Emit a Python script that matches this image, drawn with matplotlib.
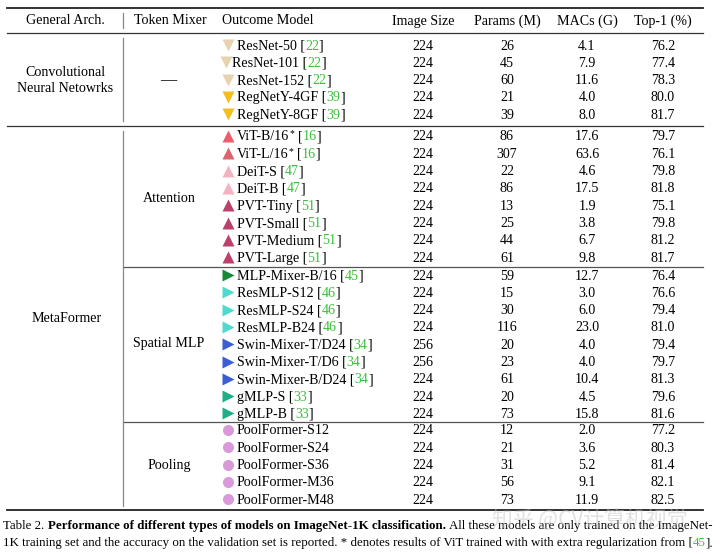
import matplotlib
matplotlib.use('Agg')
import matplotlib.pyplot as plt

plt.rcParams['font.family'] = ['Liberation Serif', 'DejaVu Serif']

# ---- table data ----
cnn_names = ['ResNet-50', 'ResNet-101', 'ResNet-152', 'RegNetY-4GF', 'RegNetY-8GF']
cnn_refs = ['22', '22', '22', '39', '39']
cnn_size = [224, 224, 224, 224, 224]
cnn_params = [26, 45, 60, 21, 39]
cnn_macs = [4.1, 7.9, 11.6, 4.0, 8.0]
cnn_top1 = [76.2, 77.4, 78.3, 80.0, 81.7]
cnn_colors = ['#e8d3b0', '#e8d3b0', '#e8d3b0', '#f2bf1e', '#f2bf1e']

att_names = ['ViT-B/16*', 'ViT-L/16*', 'DeiT-S', 'DeiT-B', 'PVT-Tiny', 'PVT-Small',
             'PVT-Medium', 'PVT-Large']
att_refs = ['16', '16', '47', '47', '51', '51', '51', '51']
att_size = [224, 224, 224, 224, 224, 224, 224, 224]
att_params = [86, 307, 22, 86, 13, 25, 44, 61]
att_macs = [17.6, 63.6, 4.6, 17.5, 1.9, 3.8, 6.7, 9.8]
att_top1 = [79.7, 76.1, 79.8, 81.8, 75.1, 79.8, 81.2, 81.7]
att_colors = ['#e8606c', '#da6470', '#f5b3c2', '#f5b3c2', '#bb416c', '#bb416c',
              '#bb416c', '#bb416c']

mlp_names = ['MLP-Mixer-B/16', 'ResMLP-S12', 'ResMLP-S24', 'ResMLP-B24', 'Swin-Mixer-T/D24',
             'Swin-Mixer-T/D6', 'Swin-Mixer-B/D24', 'gMLP-S', 'gMLP-B']
mlp_refs = ['45', '46', '46', '46', '34', '34', '34', '33', '33']
mlp_size = [224, 224, 224, 224, 256, 256, 224, 224, 224]
mlp_params = [59, 15, 30, 116, 20, 23, 61, 20, 73]
mlp_macs = [12.7, 3.0, 6.0, 23.0, 4.0, 4.0, 10.4, 4.5, 15.8]
mlp_top1 = [76.4, 76.6, 79.4, 81.0, 79.4, 79.7, 81.3, 79.6, 81.6]
mlp_colors = ['#178a3a', '#4fd9cf', '#4fd9cf', '#4fd9cf', '#3a5fd4', '#3a5fd4', '#3a5fd4',
              '#1fae88', '#1fae88']

pool_names = ['PoolFormer-S12', 'PoolFormer-S24', 'PoolFormer-S36', 'PoolFormer-M36',
              'PoolFormer-M48']
pool_size = [224, 224, 224, 224, 224]
pool_params = [12, 21, 31, 56, 73]
pool_macs = [2.0, 3.6, 5.2, 9.1, 11.9]
pool_top1 = [77.2, 80.3, 81.4, 82.1, 82.5]
pool_color = '#da9ada'

headers = ['General Arch.', 'Token Mixer', 'Outcome Model', 'Image Size', 'Params (M)',
           'MACs (G)', 'Top-1 (%)']

FS = 10.1
GREEN = '#3cbf3c'
STEP = 17.3

fig = plt.figure(figsize=(7.2, 5.54), dpi=100)
ax = fig.add_axes([0, 0, 1, 1])
ax.set_xlim(0, 720)
ax.set_ylim(554, 0)
ax.axis('off')
renderer = fig.canvas.get_renderer()


def width(s, fs, weight='normal'):
    t = ax.text(0, 0, s, fontsize=fs, weight=weight)
    w = t.get_window_extent(renderer).width
    t.remove()
    return w


def colored_line(x0, y, pieces, fs=FS, weight='normal'):
    # pieces of one font; each piece placed where it falls inside the full string
    cum = ''
    for txt, col in pieces:
        cum += txt
        if txt.strip() == '':
            continue
        x = x0 + width(cum, fs, weight) - width(txt.strip(), fs, weight)
        ax.text(x, y, txt.strip(), color=col, fontsize=fs, weight=weight,
                ha='left', va='baseline')


# rules
ax.plot([7, 703], [8, 8], color='#222222', lw=1.3)
ax.plot([7, 703], [33, 33], color='#333333', lw=0.9)
ax.plot([7, 703], [126, 126], color='#333333', lw=0.9)
ax.plot([123, 703], [267, 267], color='#555555', lw=0.9)
ax.plot([123, 703], [422, 422], color='#555555', lw=0.9)
ax.plot([7, 703], [510, 510], color='#222222', lw=1.3)
ax.plot([123, 123], [13, 28], color='#888888', lw=0.9)
ax.plot([123, 123], [38, 121], color='#888888', lw=0.9)
ax.plot([123, 123], [131, 506], color='#888888', lw=0.9)

# header
hx = [65, 170, 222, 423, 507, 587, 663]
for i, h in enumerate(headers):
    ax.text(hx[i], 24.5, h, fontsize=FS, ha='left' if i == 2 else 'center', va='baseline')

col_x = [423, 507, 587, 663]


def section(y0, names, refs, sizes, params, macs, top1, colors, marker, ms):
    for i in range(len(names)):
        y = y0 + i * STEP
        base = y + 4.5
        mx, tx = 228, 237
        if names[i] == 'ResNet-101':
            mx, tx = 226, 232
        ax.plot(mx, y, marker=marker, color=colors[i], ms=ms, mec='none', clip_on=False)
        name = names[i]
        if name.endswith('*'):
            ax.text(tx, base, name[:-1], fontsize=FS, ha='left', va='baseline')
            xs = tx + width(name[:-1], FS)
            ax.text(xs, base - 4, '*', fontsize=FS * 0.7, ha='left', va='baseline')
            xr = xs + width('*', FS * 0.7) + 3.5
            colored_line(xr, base, [('[', 'black'), (refs[i], GREEN), (']', 'black')])
        elif refs is not None:
            colored_line(tx, base, [(name + ' [', 'black'), (refs[i], GREEN), (']', 'black')])
        else:
            ax.text(tx, base, name, fontsize=FS, ha='left', va='baseline')
        vals = [str(sizes[i]), str(params[i]), '%.1f' % macs[i], '%.1f' % top1[i]]
        for cx, v in zip(col_x, vals):
            ax.text(cx, base, v, fontsize=FS, ha='center', va='baseline')


section(45, cnn_names, cnn_refs, cnn_size, cnn_params, cnn_macs, cnn_top1, cnn_colors, 'v', 8)
section(136, att_names, att_refs, att_size, att_params, att_macs, att_top1, att_colors, '^', 8)
section(275, mlp_names, mlp_refs, mlp_size, mlp_params, mlp_macs, mlp_top1, mlp_colors, '>', 8)
section(430, pool_names, None, pool_size, pool_params, pool_macs, pool_top1,
        [pool_color] * len(pool_names), 'o', 8)

# group labels
ax.text(65, 75.5, 'Convolutional', fontsize=FS, ha='center', va='baseline')
ax.text(65, 92.5, 'Neural Netowrks', fontsize=FS, ha='center', va='baseline')
ax.text(168, 80, '—', fontsize=FS * 1.15, ha='center', va='center')
ax.text(67, 322.5, 'MetaFormer', fontsize=FS, ha='center', va='baseline')
ax.text(169, 202.5, 'Attention', fontsize=FS, ha='center', va='baseline')
ax.text(169, 347.5, 'Spatial MLP', fontsize=FS, ha='center', va='baseline')
ax.text(169, 469.5, 'Pooling', fontsize=FS, ha='center', va='baseline')

# caption
CF = 9.3
x = 3
ax.text(x, 529, 'Table 2.', fontsize=CF, ha='left', va='baseline')
x += width('Table 2.', CF) + 3.5
bold = 'Performance of different types of models on ImageNet-1K classification.'
ax.text(x, 529, bold, fontsize=CF, weight='bold', ha='left', va='baseline')
x += width(bold, CF, 'bold') + 3.5
ax.text(x, 529, 'All these models are only trained on the ImageNet-', fontsize=CF,
        ha='left', va='baseline')
colored_line(3, 546, [('1K training set and the accuracy on the validation set is reported. '
                       '* denotes results of ViT trained with with extra regularization from [',
                       'black'), ('45', GREEN), ('].', 'black')], fs=CF)

# watermark
ax.text(590, 520, '知乎 @CV计算机视觉', fontsize=15, color='#c4c4c4', alpha=0.5,
        ha='center', va='center', family=['Noto Sans CJK SC', 'DejaVu Sans'])

fig.savefig('out.png', dpi=100)
